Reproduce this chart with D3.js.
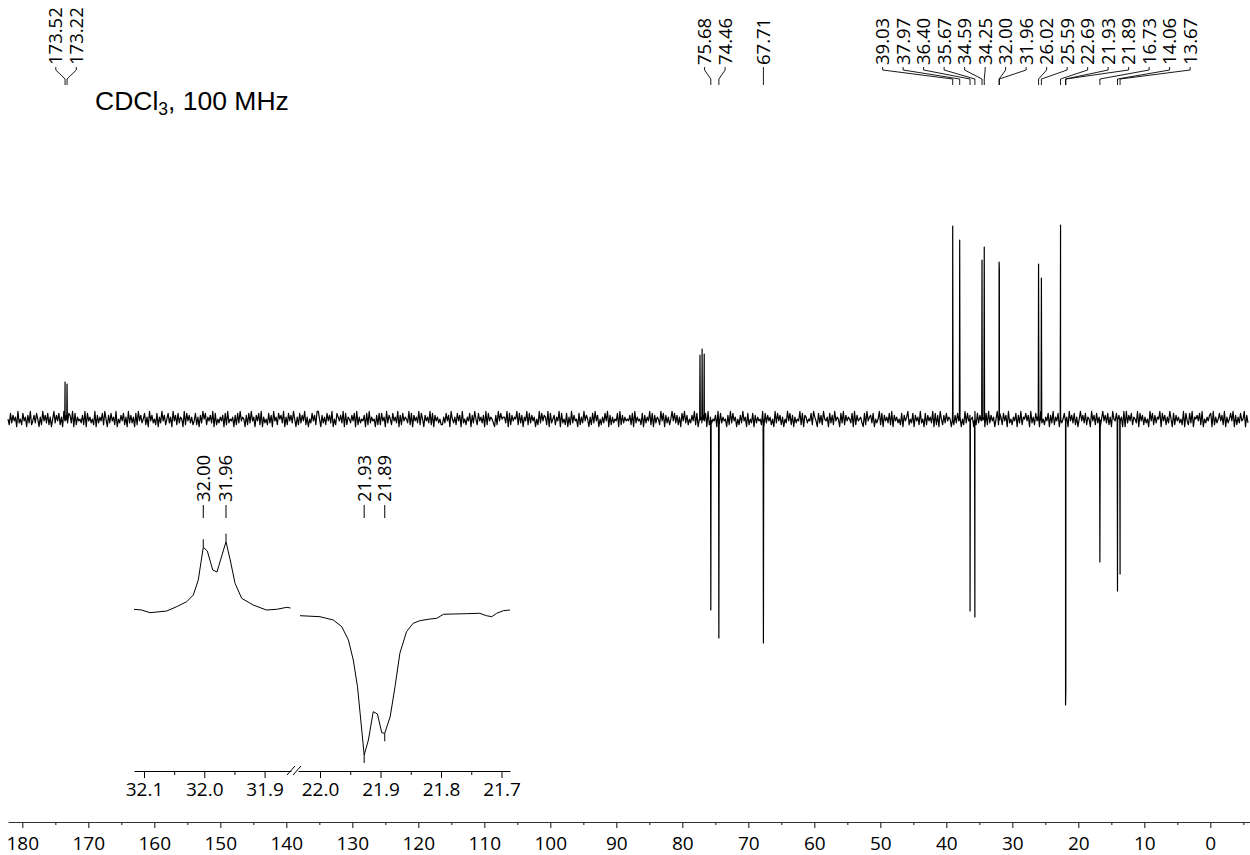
<!DOCTYPE html>
<html>
<head>
<meta charset="utf-8">
<script src="https://cdn.jsdelivr.net/npm/d3@7"></script>
<style>
  html, body { margin: 0; padding: 0; background: #fff; }
  svg { display: block; }
</style>
</head>
<body>
<svg id="chart" width="1250" height="855"></svg>
<script>
// ---------------- DATA ----------------
// Main axis ticks (ppm)
const majorTicks = [180, 170, 160, 150, 140, 130, 120, 110, 100, 90, 80, 70, 60, 50, 40, 30, 20, 10, 0];
const minorTicks = [175, 165, 155, 145, 135, 125, 115, 105, 95, 85, 75, 65, 55, 45, 35, 25, 15, 5, -5];

// Peaks of the main spectrum (ppm, intensity in arbitrary units; negative = inverted)
const peakPpm    = [173.52, 173.22, 77.32, 77.00, 76.68, 75.68, 74.46, 67.71, 39.03, 37.97, 36.40, 35.67, 34.59, 34.25, 32.00, 31.96, 26.02, 25.59, 22.69, 21.93, 21.89, 16.73, 14.06, 13.67];
const peakHeight = [38, 36, 65, 71, 66, -190, -218, -223, 194, 180, -191, -197, 160, 173, 158, 150, 156, 142, 195, -285, -270, -142, -171, -154];

// Peak-pick labels shown at the top
const labelPpm = [173.52, 173.22, 75.68, 74.46, 67.71, 39.03, 37.97, 36.40, 35.67, 34.59, 34.25, 32.00, 31.96, 26.02, 25.59, 22.69, 21.93, 21.89, 16.73, 14.06, 13.67];

// Baseline noise (typed digits 0..9, centred on 4.5)
const noiseDigits =
  "52837461935284617392473851629473826159374826194738" +
  "73918264537291846352917364829517384629153748261937" +
  "36182947358261947352816394725836194728365192847362" +
  "48261739582647391825364718293546172839465172839461" +
  "74829163528371946285739162847395162837492615384729" +
  "95173628473915286473918265374819263547182936451728" +
  "28461937528463917284653928174639285174639281746352" +
  "26384719536284719352648173952846371928465317294856" +
  "63918274659283716492837461529384762918357264918352" +
  "81629374518263947516283947152638491726354819273645" +
  "47281936452817364928173652948173625948372618493725" +
  "37492815637481926354719283645172938461527394618253" +
  "81736452918374625193847261539482716354928176354829" +
  "64183729546183729465183927465381927456318294673815" +
  "35928174638291746352817469253817462935182746391827" +
  "19527384651927384615293847561928374651829374615928" +
  "62847193526481739265847193628471935264817392648173" +
  "58261947382615947382651947283615947382619548372619" +
  "19374826539184726351948273659184726395182746352918" +
  "42839165748291536478192635847291635849172638459173";
const baselineNoise = Array.from(noiseDigits, Number);

// Inset: expansion of 32.0 ppm region (positive) and 21.9 ppm region (negative)
const insetLeftPpm = [32.1166, 32.1038, 32.090, 32.0624, 32.0458, 32.0292, 32.0182, 32.0100, 32.0017, 31.995, 31.986, 31.979, 31.964, 31.957, 31.949, 31.938, 31.919, 31.897, 31.880, 31.863, 31.857];
const insetLeftInt = [0, -0.7, -3.4, -1.7, 2.6, 7.6, 14.3, 29.3, 62, 58.3, 39.3, 37.3, 67.6, 49.3, 26, 11, 4.3, -0.7, 0, 2, 1.3];
const insetRightPpm = [22.033, 22.000, 21.978, 21.964, 21.953, 21.945, 21.938, 21.931, 21.927, 21.920, 21.912, 21.905, 21.898, 21.893, 21.884, 21.876, 21.868, 21.857, 21.846, 21.835, 21.818, 21.807, 21.796, 21.780, 21.758, 21.736, 21.725, 21.716, 21.708, 21.697, 21.686];
const insetRightInt = [-6.4, -7.4, -10.7, -17.4, -30.7, -50.7, -77.4, -120.7, -145.7, -130.7, -102.4, -104.7, -123.4, -124, -107.4, -77.4, -44, -22.4, -14, -11.4, -9.7, -9, -5, -4.7, -4.4, -4, -6.4, -7.4, -4, -1.4, -0.7];
const insetLeftTicks = [32.1, 32.0, 31.9];
const insetLeftMinor = [32.05, 31.95];
const insetRightTicks = [22.0, 21.9, 21.8, 21.7];
const insetRightMinor = [21.95, 21.85, 21.75];
const insetLeftLabels = [32.00, 31.96];
const insetRightLabels = [21.93, 21.89];

// ---------------- DRAWING ----------------
const svg = d3.select("#chart");
const numFont = "'Open Sans', 'Noto Sans', sans-serif";

const x = d3.scaleLinear().domain([180, 0]).range([22.3, 1210.3]);
const y = d3.scaleLinear().domain([-300, 200]).range([720, 220]);

// Spectrum path
const nNoise = baselineNoise.length;
const pStart = x.invert(8), pEnd = x.invert(1248);
const stepPpm = (pStart - pEnd) / (nNoise - 1);
let pts = baselineNoise.map((d, i) => ({ ppm: pStart - i * stepPpm, v: (d - 4.5) * 1.9 }));
peakPpm.forEach((p, i) => {
  pts.push({ ppm: p + 0.05, v: 0 }, { ppm: p, v: peakHeight[i] }, { ppm: p - 0.05, v: 0 });
});
pts.sort((a, b) => b.ppm - a.ppm);
const line = d3.line().x(d => x(d.ppm)).y(d => y(d.v));
svg.append("path").datum(pts)
  .attr("d", line).attr("fill", "none").attr("stroke", "#000")
  .attr("stroke-width", 1.2).attr("stroke-linejoin", "round");

// Main axis
const axisScale = x.copy().domain([x.invert(8), x.invert(1250)]).range([8, 1250]);
const gAx = svg.append("g").attr("transform", "translate(0,822)");
gAx.call(d3.axisBottom(axisScale).tickValues(majorTicks).tickSize(6).tickSizeOuter(0).tickPadding(9).tickFormat(d3.format("d")));
const gMin = svg.append("g").attr("transform", "translate(0,822)");
gMin.call(d3.axisBottom(axisScale).tickValues(minorTicks).tickSize(3).tickSizeOuter(0).tickFormat(""));
gMin.select(".domain").remove();
[gAx, gMin].forEach(g => {
  g.selectAll("path,line").attr("stroke", "#333").attr("stroke-width", 1.2);
  g.selectAll("text").attr("font-family", numFont).attr("font-size", 19).attr("fill", "#000");
});

// Top peak labels: cluster layout with minimum spacing
const spacing = 20.5;
let clusters = labelPpm.map((p, i) => ({ idx: [i], lo: x(p), hi: x(p) }));
function place(c) {
  const mid = (c.lo + c.hi) / 2;
  const n = c.idx.length;
  c.start = mid - (n - 1) * spacing / 2;
  c.end = c.start + (n - 1) * spacing;
}
clusters.forEach(place);
let merged = true;
while (merged) {
  merged = false;
  for (let k = 0; k < clusters.length - 1; k++) {
    const a = clusters[k], b = clusters[k + 1];
    if (b.start - a.end < spacing) {
      const c = { idx: a.idx.concat(b.idx), lo: Math.min(a.lo, b.lo), hi: Math.max(a.hi, b.hi) };
      place(c);
      clusters.splice(k, 2, c);
      merged = true;
      break;
    }
  }
}
const labelG = svg.append("g");
clusters.forEach(c => {
  c.idx.forEach((i, j) => {
    const lx = c.start + j * spacing;
    const px = x(labelPpm[i]);
    labelG.append("text")
      .attr("transform", `translate(${lx},65) rotate(-90)`)
      .attr("dy", "0.35em")
      .attr("font-family", numFont).attr("font-size", 18.5).attr("fill", "#000")
      .text(labelPpm[i].toFixed(2));
    labelG.append("path")
      .attr("d", `M${lx},67 L${lx},70 L${px},79 L${px},85`)
      .attr("fill", "none").attr("stroke", "#000").attr("stroke-width", 0.9);
  });
});

// Title
const title = svg.append("text").attr("x", 95).attr("y", 110)
  .attr("font-family", "'Liberation Sans', Arial, sans-serif").attr("font-size", 26.5).attr("fill", "#000");
title.append("tspan").text("CDCl");
title.append("tspan").attr("font-size", 17.5).attr("dy", 5).text("3");
title.append("tspan").attr("dy", -5).text(", 100 MHz");

// ---------------- INSET ----------------
const xL = d3.scaleLinear().domain([32.1, 31.9]).range([144, 264.6]);
const xR = d3.scaleLinear().domain([22.0, 21.7]).range([320, 501.5]);
const yI = d3.scaleLinear().domain([-150, 70]).range([759.3, 539.3]);

const leftPts = insetLeftPpm.map((p, i) => ({ ppm: p, v: insetLeftInt[i] }));
const rightPts = insetRightPpm.map((p, i) => ({ ppm: p, v: insetRightInt[i] }));
svg.append("path").datum(leftPts)
  .attr("d", d3.line().x(d => xL(d.ppm)).y(d => yI(d.v)))
  .attr("fill", "none").attr("stroke", "#000").attr("stroke-width", 1);
svg.append("path").datum(rightPts)
  .attr("d", d3.line().x(d => xR(d.ppm)).y(d => yI(d.v)))
  .attr("fill", "none").attr("stroke", "#000").attr("stroke-width", 1);

// Inset axes
function insetAxis(sc, x0, x1, majors, minors) {
  const s = sc.copy().domain([sc.invert(x0), sc.invert(x1)]).range([x0, x1]);
  const g = svg.append("g").attr("transform", "translate(0,771)");
  g.call(d3.axisBottom(s).tickValues(majors).tickSize(7).tickSizeOuter(0).tickPadding(5).tickFormat(d3.format(".1f")));
  const gm = svg.append("g").attr("transform", "translate(0,771)");
  gm.call(d3.axisBottom(s).tickValues(minors).tickSize(4).tickSizeOuter(0).tickFormat(""));
  gm.select(".domain").remove();
  [g, gm].forEach(gg => {
    gg.selectAll("path,line").attr("stroke", "#000").attr("stroke-width", 1);
    gg.selectAll("text").attr("font-family", numFont).attr("font-size", 19).attr("fill", "#000");
  });
}
insetAxis(xL, 134, 291, insetLeftTicks, insetLeftMinor);
insetAxis(xR, 298, 510, insetRightTicks, insetRightMinor);
// axis break marks
svg.append("path").attr("d", "M287,775 L295,766 M293,775 L301,766")
  .attr("fill", "none").attr("stroke", "#000").attr("stroke-width", 1);

// Inset peak labels
function insetLabel(sc, data, ppm, positive) {
  const near = data.filter(d => Math.abs(d.ppm - ppm) < 0.015);
  const ext = positive ? d3.greatest(near, d => d.v) : d3.least(near, d => d.v);
  const lx = sc(ext.ppm);
  const py = yI(ext.v);
  svg.append("text")
    .attr("transform", `translate(${lx},502) rotate(-90)`)
    .attr("dy", "0.35em")
    .attr("font-family", numFont).attr("font-size", 18.5).attr("fill", "#000")
    .text(ppm.toFixed(2));
  svg.append("line").attr("x1", lx).attr("x2", lx).attr("y1", 505).attr("y2", 518)
    .attr("stroke", "#000").attr("stroke-width", 1);
  svg.append("line").attr("x1", lx).attr("x2", lx)
    .attr("y1", positive ? py - 8 : py).attr("y2", positive ? py : py + 8)
    .attr("stroke", "#000").attr("stroke-width", 1);
}
insetLeftLabels.forEach(p => insetLabel(xL, leftPts, p, true));
insetRightLabels.forEach(p => insetLabel(xR, rightPts, p, false));
</script>
</body>
</html>
